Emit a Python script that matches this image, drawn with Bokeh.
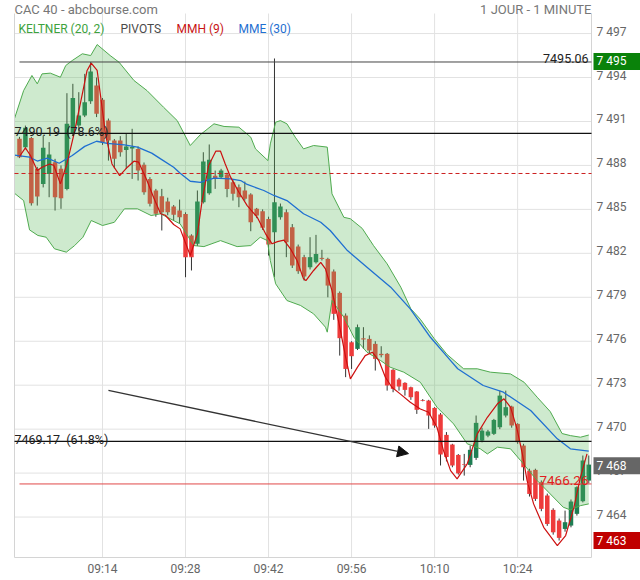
import numpy as np
from bokeh.plotting import figure
from bokeh.models import Range1d, Arrow, NormalHead
from bokeh.core.properties import value
from bokeh.embed import file_html
from bokeh.resources import INLINE

# ---------------- data ----------------
start_time = "09:00"   # first 1-minute candle
opens = [7489.82, 7489.24, 7489.88, 7487.77, 7486.74, 7487.42, 7488.22, 7487.77, 7486.40, 7490.16,
         7490.72, 7491.41, 7492.38, 7493.45, 7492.48, 7491.06, 7489.70, 7489.70, 7489.06, 7489.15,
         7489.13, 7488.04, 7487.08, 7486.29, 7485.90, 7485.54, 7485.19, 7484.92, 7484.69, 7483.22,
         7482.65, 7485.49, 7486.10, 7487.29, 7487.20, 7487.38, 7486.86, 7486.51, 7486.29, 7486.01,
         7485.04, 7484.88, 7484.35, 7483.44, 7484.47, 7484.81, 7483.78, 7482.46, 7481.74, 7481.05,
         7481.39, 7481.69, 7481.62, 7480.76, 7479.30, 7477.75, 7475.93, 7475.48, 7476.20, 7476.16,
         7475.82, 7475.14, 7475.14, 7474.05, 7473.39, 7473.16, 7472.86, 7472.57, 7471.98, 7471.95,
         7471.45, 7471.00, 7469.61, 7468.95, 7468.24, 7467.60, 7467.56, 7468.04, 7469.22, 7469.56,
         7469.68, 7470.13, 7470.93, 7471.54, 7470.36, 7468.88, 7467.17, 7467.22, 7466.38, 7465.47,
         7464.49, 7463.76, 7463.19, 7463.42, 7464.22, 7465.08, 7466.49]
highs = [7489.95, 7490.72, 7489.95, 7487.90, 7490.04, 7489.59, 7488.45, 7488.00, 7492.93, 7493.57,
         7493.00, 7494.25, 7495.06, 7494.00, 7492.60, 7491.20, 7489.80, 7490.00, 7490.16, 7490.50,
         7489.30, 7488.20, 7487.20, 7486.40, 7486.40, 7485.80, 7485.30, 7485.67, 7484.80, 7483.30,
         7486.29, 7488.90, 7489.43, 7487.65, 7487.77, 7487.50, 7487.00, 7486.70, 7486.90, 7486.10,
         7485.10, 7485.00, 7484.50, 7495.30, 7485.40, 7485.00, 7484.00, 7482.60, 7481.90, 7483.10,
         7483.26, 7482.24, 7481.70, 7480.90, 7479.40, 7477.90, 7476.00, 7477.14, 7476.96, 7476.40,
         7476.00, 7475.66, 7475.20, 7474.10, 7473.50, 7473.20, 7472.90, 7472.60, 7472.05, 7472.00,
         7471.50, 7471.10, 7469.80, 7469.00, 7468.30, 7468.31, 7468.88, 7470.93, 7470.10, 7469.95,
         7470.70, 7472.63, 7472.63, 7471.60, 7470.40, 7469.00, 7467.30, 7467.30, 7466.50, 7465.60,
         7464.60, 7463.90, 7464.44, 7465.20, 7466.10, 7468.20, 7468.20]
lows = [7488.50, 7489.10, 7485.26, 7485.26, 7486.50, 7485.83, 7484.92, 7485.04, 7486.30, 7490.00,
        7490.30, 7491.30, 7492.20, 7491.30, 7489.40, 7488.33, 7487.80, 7488.60, 7487.77, 7487.08,
        7486.97, 7486.00, 7485.20, 7484.50, 7483.56, 7484.60, 7484.24, 7484.01, 7480.37, 7480.83,
        7482.50, 7485.40, 7486.00, 7486.40, 7487.10, 7485.83, 7485.60, 7485.15, 7485.60, 7483.51,
        7484.40, 7483.60, 7481.85, 7480.37, 7484.30, 7481.74, 7481.00, 7480.60, 7480.14, 7480.90,
        7481.30, 7481.51, 7479.00, 7477.46, 7475.02, 7473.55, 7474.11, 7475.40, 7475.48, 7475.20,
        7474.00, 7474.90, 7472.63, 7472.52, 7472.63, 7472.29, 7472.00, 7471.04, 7471.90, 7470.02,
        7470.10, 7467.52, 7467.80, 7467.40, 7466.90, 7466.83, 7467.40, 7467.90, 7469.10, 7469.45,
        7469.60, 7470.00, 7470.80, 7470.10, 7469.00, 7466.49, 7465.40, 7465.10, 7464.40, 7463.40,
        7462.80, 7462.40, 7463.00, 7463.30, 7464.10, 7465.00, 7466.30]
closes = [7488.56, 7490.57, 7485.42, 7485.88, 7489.20, 7488.74, 7485.83, 7485.76, 7490.84, 7492.61,
          7491.41, 7492.31, 7494.41, 7491.52, 7489.59, 7489.70, 7488.45, 7488.90, 7489.29, 7489.25,
          7487.65, 7486.17, 7485.38, 7484.70, 7484.81, 7484.81, 7484.63, 7484.47, 7481.74, 7481.74,
          7485.54, 7488.27, 7488.38, 7487.08, 7487.65, 7486.40, 7486.06, 7485.83, 7485.72, 7484.12,
          7484.58, 7483.74, 7482.60, 7485.49, 7485.19, 7482.76, 7481.17, 7480.78, 7480.42, 7481.74,
          7481.96, 7481.62, 7479.80, 7477.87, 7476.21, 7474.11, 7474.98, 7476.96, 7476.12, 7475.37,
          7474.80, 7475.05, 7472.98, 7472.75, 7472.91, 7472.68, 7472.18, 7471.32, 7471.93, 7470.93,
          7470.25, 7468.27, 7468.10, 7467.52, 7466.98, 7467.56, 7468.59, 7470.43, 7469.90, 7469.84,
          7470.63, 7472.29, 7471.50, 7470.25, 7469.11, 7467.40, 7465.58, 7465.24, 7464.56, 7463.53,
          7462.96, 7462.58, 7463.65, 7465.06, 7466.04, 7467.86, 7467.58]

# indicator curves (minutes after 09:00, value)
mme_t = [-0.84, 1.7, 3.0, 4.7, 6.7, 8.9, 11.0, 13.0, 14.8, 17.7, 19.9, 22.3, 23.8, 26.0, 27.1, 28.8,
         30.5, 32.8, 35.6, 37.3, 38.4, 41.2, 42.9, 45.1, 47.9, 50.8, 52.4, 55.3, 58.6, 60.9, 62.6,
         65.9, 69.3, 72.7, 73.9, 78.2, 81.6, 86.2, 90.7, 92.9, 96.0]
mme_v = [7488.70, 7488.56, 7488.30, 7488.50, 7488.15, 7488.68, 7489.30, 7489.65, 7489.50, 7489.40,
         7489.25, 7488.84, 7488.45, 7487.88, 7487.47, 7486.92, 7486.85, 7487.13, 7487.08, 7486.97,
         7486.70, 7486.29, 7485.95, 7485.60, 7484.70, 7484.12, 7483.56, 7482.19, 7481.05, 7480.26,
         7479.69, 7478.21, 7476.27, 7474.68, 7474.12, 7472.98, 7472.52, 7471.27, 7469.34, 7468.66,
         7468.50]
mmh_t = [0, 1.0, 1.85, 3.0, 3.8, 5.1, 5.8, 6.9, 8.0, 9.2, 10.6, 11.4, 12.1, 13.1, 13.7, 14.5, 15.6,
         16.9, 18.2, 19.3, 20.1, 21.5, 22.6, 23.8, 24.6, 26.0, 27.1, 28.8, 30.0, 30.8, 31.9, 33.1,
         33.9, 34.7, 35.6, 37.0, 38.4, 40.1, 41.5, 42.6, 43.5, 44.6, 45.7, 46.8, 47.9, 48.3, 49.6,
         50.8, 51.6, 52.7, 53.9, 55.0, 55.8, 57.0, 58.3, 59.5, 60.6, 61.7, 62.8, 64.2, 65.9, 67.6,
         69.0, 70.4, 71.5, 72.7, 73.8, 75.5, 77.2, 78.9, 80.6, 81.7, 82.8, 83.9, 84.8, 85.6, 86.7,
         88.4, 90.7, 92.1, 93.5, 94.6, 95.7]
mmh_v = [7488.61, 7489.20, 7488.68, 7487.65, 7487.88, 7488.10, 7488.00, 7486.74, 7488.10, 7490.16,
         7492.89, 7494.48, 7494.98, 7494.48, 7492.66, 7490.16, 7488.10, 7487.31, 7487.88, 7488.29,
         7488.22, 7486.97, 7485.83, 7484.70, 7484.60, 7483.97, 7483.67, 7481.85, 7483.33, 7485.60,
         7488.00, 7488.97, 7488.97, 7488.10, 7487.20, 7486.17, 7485.26, 7484.46, 7483.33, 7482.65,
         7482.80, 7482.90, 7482.31, 7481.51, 7480.26, 7480.14, 7480.83, 7481.39, 7480.94, 7479.46,
         7477.19, 7474.91, 7473.43, 7474.23, 7475.02, 7475.25, 7474.68, 7473.54, 7472.86, 7472.41,
         7471.84, 7471.38, 7471.15, 7470.13, 7468.54, 7467.17, 7466.61, 7467.63, 7469.68, 7470.81,
         7471.73, 7472.07, 7471.50, 7470.02, 7468.31, 7466.49, 7464.90, 7463.30, 7462.05, 7462.74,
         7464.67, 7466.72, 7468.31]
kup_t = [-0.84, 0.7, 2.1, 3.0, 3.8, 5.2, 6.9, 7.8, 8.9, 10.6, 12.0, 13.1, 15.3, 16.8, 19.3, 21.5, 24.3,
         26.6, 28.8, 30.5, 32.8, 34.5, 37.0, 39.0, 39.8, 41.9, 42.3, 43.2, 44.0, 45.1, 46.5, 47.9,
         49.6, 51.9, 52.7, 54.7, 55.8, 57.8, 59.7, 62.0, 64.3, 66.0, 67.6, 69.9, 72.1, 74.9, 77.2,
         79.4, 82.8, 85.1, 87.3, 89.5, 91.5, 92.9, 94.6, 96.0]
kup_v = [7491.20, 7493.11, 7494.14, 7493.57, 7494.25, 7494.30, 7494.02, 7494.82, 7495.16, 7495.62,
         7495.50, 7496.25, 7495.50, 7495.04, 7493.80, 7493.11, 7491.97, 7491.06, 7489.36, 7490.10,
         7490.84, 7490.66, 7490.61, 7489.93, 7489.13, 7488.33, 7489.47, 7490.95, 7491.06, 7490.84,
         7489.93, 7489.13, 7489.36, 7489.25, 7486.06, 7484.46, 7484.36, 7483.70, 7482.53, 7481.28,
         7479.69, 7478.21, 7477.50, 7476.20, 7475.10, 7474.12, 7474.12, 7473.89, 7473.77, 7473.20,
         7472.18, 7471.20, 7469.70, 7469.56, 7469.45, 7469.60]
klo_t = [-0.84, 0.7, 1.7, 3.1, 4.5, 5.9, 7.9, 9.3, 10.7, 12.1, 14.0, 16.0, 17.7, 19.9, 22.2, 23.8,
         27.1, 29.4, 31.1, 33.9, 36.7, 39.0, 40.6, 41.8, 42.3, 43.2, 45.1, 47.4, 49.6, 51.6, 51.9,
         52.7, 54.7, 56.4, 58.6, 60.9, 62.5, 64.8, 67.6, 70.4, 73.2, 75.5, 77.7, 78.9, 80.6, 82.8,
         84.5, 87.3, 89.5, 91.7, 92.9, 94.6, 96.0]
klo_v = [7486.10, 7485.60, 7483.60, 7483.22, 7483.10, 7482.31, 7482.08, 7482.53, 7483.10, 7484.24,
         7483.90, 7484.12, 7485.04, 7485.04, 7484.58, 7484.70, 7484.01, 7482.53, 7482.46, 7482.87,
         7482.46, 7482.53, 7483.10, 7482.87, 7481.51, 7479.92, 7478.78, 7478.44, 7477.87, 7476.96,
         7476.62, 7478.78, 7477.64, 7476.27, 7475.25, 7474.68, 7474.23, 7473.89, 7473.20, 7471.50,
         7470.36, 7469.00, 7468.66, 7468.31, 7468.77, 7468.66, 7467.86, 7466.49, 7465.58, 7464.67,
         7464.49, 7464.78, 7464.90]

x_tick_labels = ["09:14", "09:28", "09:42", "09:56", "10:10", "10:24"]
y_ticks = [7464, 7467, 7470, 7473, 7476, 7479, 7482, 7485, 7488, 7491, 7494, 7497]

pivot_levels = [7495.06, 7490.19, 7469.17, 7466.26]
pivot_ratios = ["", "78.6%", "61.8%", ""]
dashed_level = 7487.45
badge_levels = [7495.10, 7467.50, 7462.40]
badge_texts = ["7 495", "7 468", "7 463"]
badge_colors = ["#0a820a", "#666666", "#c00000"]
arrow_t = [15.0, 65.6]
arrow_v = [7472.64, 7468.33]
legend_items = ["KELTNER (20, 2)", "PIVOTS", "MMH (9)", "MME (30)"]
legend_colors = ["#3da23d", "#4a4a4a", "#c81414", "#1f6fd1"]

# ---------------- layout helpers ----------------
FONT = value("Roboto")
W, H = 640, 580
PX_L, PX_R, PX_T, PX_B = 14, 591, 13, 557      # plot area edges (pixels)
X_L, X_R = -0.84, 96.46                          # visible minutes
Y_T, Y_B = 7498.37, 7461.24                      # visible prices
SX = (PX_R - PX_L) / (X_R - X_L)
SY = (PX_B - PX_T) / (Y_T - Y_B)
def xd(px): return X_L + (px - PX_L) / SX
def yd(py): return Y_T - (py - PX_T) / SY

o = np.array(opens); h = np.array(highs); l = np.array(lows); c = np.array(closes)
n = len(o)
t = np.arange(n)
h0, m0 = map(int, start_time.split(":"))
tick_pos = [int(s[:2]) * 60 + int(s[3:]) - (h0 * 60 + m0) for s in x_tick_labels]

p = figure(width=W, height=H, output_backend="svg", toolbar_location=None,
           x_range=Range1d(xd(0), xd(W)), y_range=Range1d(yd(H), yd(0)),
           x_axis_location=None, y_axis_location=None,
           min_border=0, min_border_left=0, min_border_right=0, min_border_top=0, min_border_bottom=0)
p.styles = {"position": "absolute", "left": "0px", "top": "0px"}
p.outline_line_color = None
p.background_fill_color = "white"
p.border_fill_color = "white"
p.xgrid.visible = False
p.ygrid.visible = False

GRID = "#e2e2e2"
# grid
p.segment(x0=tick_pos, y0=[Y_B] * len(tick_pos), x1=tick_pos, y1=[Y_T] * len(tick_pos),
          line_color=GRID, line_width=1)
p.segment(x0=[X_L] * len(y_ticks), y0=y_ticks, x1=[X_R] * len(y_ticks), y1=y_ticks,
          line_color=GRID, line_width=1)

# candles
inc = c >= o
dec = ~inc
p.segment(t, h, t, l, line_color="#333333", line_width=1)
p.vbar(x=t[inc], width=0.76, top=c[inc], bottom=o[inc], fill_color="#1d7d52", line_color=None)
p.vbar(x=t[dec], width=0.76, top=o[dec], bottom=c[dec], fill_color="#ee3b3b", line_color=None)

# keltner band (translucent, over candles)
p.patch(list(kup_t) + list(klo_t)[::-1], list(kup_v) + list(klo_v)[::-1],
        fill_color="#5cb85c", fill_alpha=0.3, line_color=None)
p.line(kup_t, kup_v, line_color="#4faa4f", line_width=1)
p.line(klo_t, klo_v, line_color="#4faa4f", line_width=1)

# moving averages
p.line(mme_t, mme_v, line_color="#1f6fd1", line_width=1.3)
p.line(mmh_t, mmh_v, line_color="#cc1010", line_width=1.2)

# frame borders (left, bottom, right)
p.segment(x0=[X_L, X_L, X_R], y0=[Y_B, Y_B, Y_B], x1=[X_L, X_R, X_R], y1=[Y_T, Y_B, Y_T],
          line_color="#d4d4d4", line_width=1)

# pivots
p.segment(x0=[X_L], y0=[dashed_level], x1=[X_R], y1=[dashed_level],
          line_color="#cc2020", line_dash="4 3", line_width=1)
for lev, ratio in zip(pivot_levels, pivot_ratios):
    if ratio:
        p.segment(x0=[X_L], y0=[lev], x1=[X_R], y1=[lev], line_color="#111111", line_width=1.2)
        p.text(x=[xd(14)], y=[lev], text=[f"{lev:.2f}\u00a0\u00a0({ratio})"], text_font=FONT,
               text_font_size="12.5px", text_color="#222222", text_baseline="alphabetic",
               text_align="left", y_offset=-2)
    else:
        above = lev > dashed_level
        p.segment(x0=[t[0]], y0=[lev], x1=[X_R], y1=[lev],
                  line_color="#444444" if above else "#e04848", line_width=1)
        p.text(x=[xd(588)], y=[lev], text=[f"{lev:.2f}"], text_font=FONT,
               text_font_size="12.5px" if above else "13.5px",
               text_color="#222222" if above else "#e02020",
               text_baseline="alphabetic", text_align="right", y_offset=-3)

# arrow
p.add_layout(Arrow(end=NormalHead(size=11, fill_color="#111111", line_color="#111111"),
                   x_start=arrow_t[0], y_start=arrow_v[0], x_end=arrow_t[1], y_end=arrow_v[1],
                   line_color="#333333", line_width=1.3))

# axis labels
p.text(x=[xd(596)] * len(y_ticks), y=y_ticks, text=[f"{v:,}".replace(",", " ") for v in y_ticks],
       text_font=FONT, text_font_size="12px", text_color="#666666",
       text_baseline="middle", text_align="left", y_offset=-2)
p.text(x=tick_pos, y=[yd(568)] * len(tick_pos), text=x_tick_labels,
       text_font=FONT, text_font_size="12px", text_color="#666666",
       text_baseline="middle", text_align="center")

# badges on price axis
bx = xd((593 + W) / 2)
p.rect(x=[bx] * 3, y=badge_levels, width=(W - 593) / SX, height=17, height_units="screen",
       fill_color=badge_colors, line_color=None)
p.text(x=[xd(596)] * 3, y=badge_levels, text=badge_texts, text_font=FONT, text_font_size="12px",
       text_color="white", text_baseline="middle", text_align="left")

# titles and legend
p.text(x=[xd(14)], y=[yd(9)], text=["CAC 40 - abcbourse.com"], text_font=FONT,
       text_font_size="13px", text_color="#777777", text_baseline="middle", text_align="left")
p.text(x=[xd(591)], y=[yd(9)], text=["1 JOUR - 1 MINUTE"], text_font=FONT,
       text_font_size="13px", text_color="#777777", text_baseline="middle", text_align="right")
leg_px = [18, 120, 176, 238]
p.text(x=[xd(v) for v in leg_px], y=[yd(28)] * 4, text=legend_items, text_font=FONT,
       text_font_size="12px", text_color=legend_colors, text_baseline="middle", text_align="left")

open("out.html", "w").write(file_html(p, INLINE))
